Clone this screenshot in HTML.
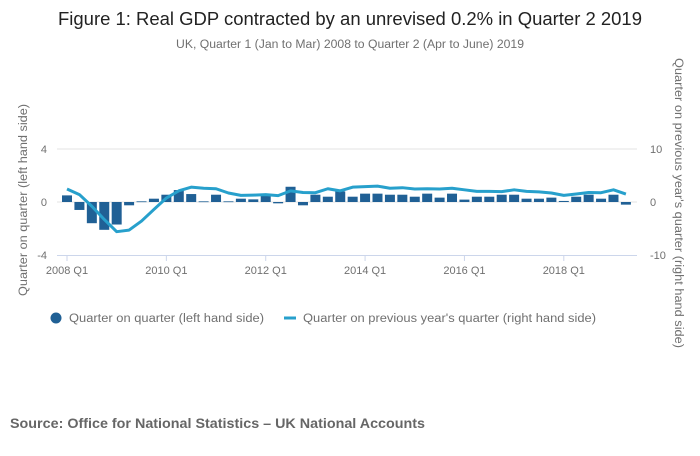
<!DOCTYPE html>
<html><head><meta charset="utf-8"><style>
body{margin:0;background:#fff;font-family:"Liberation Sans",sans-serif}
svg text{font-family:"Liberation Sans",sans-serif}
</style></head><body>
<svg id="c" width="700" height="451" viewBox="0 0 700 451">
<text x="350" y="25" text-anchor="middle" font-size="18" fill="#222" textLength="584" lengthAdjust="spacingAndGlyphs">Figure 1: Real GDP contracted by an unrevised 0.2% in Quarter 2 2019</text>
<text x="350" y="48" text-anchor="middle" font-size="11.5" fill="#707070" textLength="348" lengthAdjust="spacingAndGlyphs">UK, Quarter 1 (Jan to Mar) 2008 to Quarter 2 (Apr to June) 2019</text>
<text transform="translate(27,200) rotate(-90)" text-anchor="middle" font-size="11.5" fill="#707070" textLength="192" lengthAdjust="spacingAndGlyphs">Quarter on quarter (left hand side)</text>
<text transform="translate(675,203) rotate(90)" text-anchor="middle" font-size="11.5" fill="#707070" textLength="290" lengthAdjust="spacingAndGlyphs">Quarter on previous year's quarter (right hand side)</text>
<g id="plot"></g>
<g>
<circle cx="56" cy="318" r="5.5" fill="#206095"/>
<text x="69" y="322" font-size="11.5" fill="#707070" textLength="195" lengthAdjust="spacingAndGlyphs">Quarter on quarter (left hand side)</text>
<rect x="284" y="316.5" width="12" height="3" fill="#27a0cc"/>
<text x="303" y="322" font-size="11.5" fill="#707070" textLength="293" lengthAdjust="spacingAndGlyphs">Quarter on previous year's quarter (right hand side)</text>
</g>
<text x="10" y="428" font-size="13.5" font-weight="bold" fill="#666" textLength="415" lengthAdjust="spacingAndGlyphs">Source: Office for National Statistics – UK National Accounts</text>
</svg>
<script>
const qoq=[0.5,-0.6,-1.6,-2.1,-1.7,-0.25,0.05,0.25,0.55,0.9,0.6,0.05,0.55,0.05,0.25,0.2,0.55,-0.1,1.15,-0.25,0.55,0.4,0.8,0.4,0.63,0.63,0.55,0.55,0.4,0.63,0.33,0.63,0.18,0.4,0.4,0.55,0.55,0.25,0.25,0.33,0.08,0.4,0.55,0.25,0.55,-0.2];
const yoy=[2.45,1.4,-0.8,-3.3,-5.6,-5.3,-3.6,-1.4,0.75,2.1,2.8,2.6,2.5,1.7,1.25,1.3,1.4,1.2,2.1,1.8,1.75,2.5,2.1,2.8,2.9,3.0,2.6,2.7,2.45,2.5,2.45,2.6,2.3,2.0,2.0,1.95,2.3,2.0,1.9,1.7,1.25,1.5,1.8,1.75,2.3,1.5];
const leftTicks=[4,0,-4];
const rightTicks=[10,0,-10];
const xTickLabels=["2008 Q1","2010 Q1","2012 Q1","2014 Q1","2016 Q1","2018 Q1"];
const xTickIdx=[0,8,16,24,32,40];
const NS="http://www.w3.org/2000/svg";
const g=document.getElementById('plot');
const x=i=>67+i*12.42;
const yL=v=>202-v*13.25;
const yR=v=>202-v*5.3;
function mk(t,a){const e=document.createElementNS(NS,t);for(const k in a)e.setAttribute(k,a[k]);g.appendChild(e);return e;}
let e=mk('line',{x1:57,x2:637,y1:yL(4),y2:yL(4),stroke:'#e3e3e3'});


e=mk('line',{x1:57,x2:637,y1:yL(0),y2:yL(0),stroke:'#e3e3e3'});


e=mk('line',{x1:57,x2:637,y1:255.5,y2:255.5,stroke:'#ccd6eb'});


leftTicks.forEach(v=>{const t=mk('text',{x:47,y:yL(v)+4,'text-anchor':'end','font-size':11,fill:'#707070'});t.textContent=v;

});
rightTicks.forEach(v=>{const t=mk('text',{x:650,y:yR(v)+4,'font-size':11,fill:'#707070'});t.textContent=v;

});
xTickIdx.forEach((q,k)=>{const l=mk('line',{x1:x(q),x2:x(q),y1:255,y2:261,stroke:'#ccd6eb'});


const t=mk('text',{x:x(q),y:274,'text-anchor':'middle','font-size':11,fill:'#707070'});t.textContent=xTickLabels[k];

});
qoq.forEach((v,i)=>{const y0=yL(0),y1=yL(v);const r=mk('rect',{x:x(i)-5,y:Math.min(y0,y1),width:10,height:Math.max(Math.abs(y1-y0),0.8),fill:'#206095'});

});
const p=mk('polyline',{points:yoy.map((v,i)=>x(i)+','+yR(v)).join(' '),fill:'none',stroke:'#27a0cc','stroke-width':3,'stroke-linejoin':'round'});


</script>
</body></html>
